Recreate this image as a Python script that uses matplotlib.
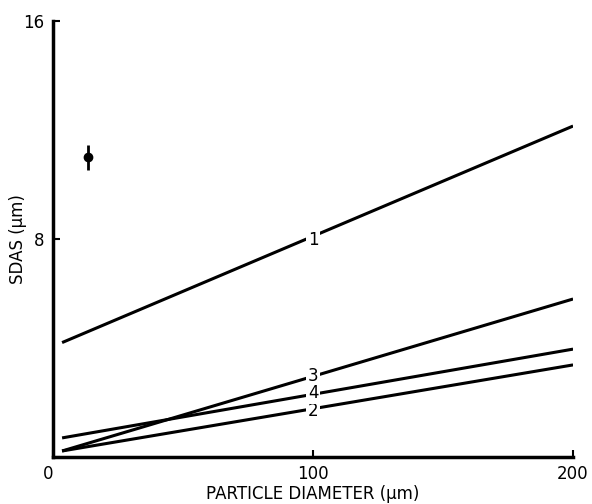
import matplotlib
matplotlib.use("Agg")
import matplotlib.pyplot as plt
import numpy as np

plt.rcParams["font.family"] = ["Liberation Sans Narrow", "DejaVu Sans"]

# curve end points (particle diameter in um, SDAS in um)
curve_ids = ["1", "2", "3", "4"]
diam_start = [3.5, 3.5, 3.5, 3.5]
diam_end = [200, 200, 200, 200]
sdas_start = [4.2, 0.22, 0.22, 0.7]
sdas_end = [12.15, 3.38, 5.8, 3.96]
label_diam = 100
label_sdas = [7.96, 1.69, 2.97, 2.35]

# single measured point with error bar
point_diam = [13.5]
point_sdas = [11.0]
point_err = [0.45]

fig = plt.figure(figsize=(5.92, 5.04), dpi=100)
ax = fig.add_axes([0.0895, 0.0933, 0.8785, 0.8647])

for i, cid in enumerate(curve_ids):
    ax.plot([diam_start[i], diam_end[i]], [sdas_start[i], sdas_end[i]],
            color="black", linewidth=2.2, solid_capstyle="butt")
    ax.text(label_diam, label_sdas[i], cid, ha="center", va="center",
            fontsize=12, color="black",
            bbox=dict(facecolor="white", edgecolor="none", pad=1.5))

ax.errorbar(point_diam, point_sdas, yerr=point_err, fmt="o", color="black",
            markersize=6, elinewidth=2, capsize=0)

ax.set_xlim(0, 200)
ax.set_ylim(0, 16)
ax.set_xticks([0, 100, 200])
ax.set_yticks([0, 8, 16])
ax.set_yticklabels(["", "8", "16"])
ax.tick_params(direction="in", length=5, width=1.5, labelsize=12, pad=6)
ax.get_xticklabels()[0].set_horizontalalignment("right")
for side in ("top", "right"):
    ax.spines[side].set_visible(False)
for side in ("left", "bottom"):
    ax.spines[side].set_linewidth(2.5)

ax.set_xlabel("PARTICLE DIAMETER (µm)", fontsize=12, labelpad=1)
ax.set_ylabel("SDAS (µm)", fontsize=12)
ax.yaxis.set_label_coords(-0.05, 0.5)

fig.savefig("out.png", dpi=100)
